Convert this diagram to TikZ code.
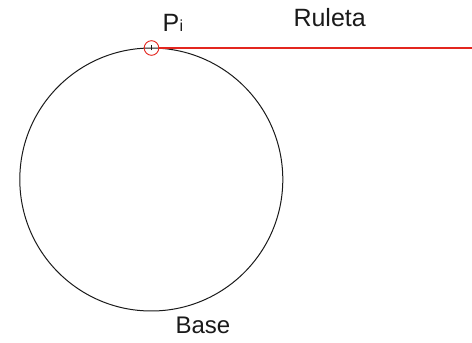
\documentclass[tikz,border=0pt]{standalone}
\usepackage{fontspec}
\setmainfont{Liberation Sans}
\usepackage{xcolor}
\usetikzlibrary{positioning,calc}
\definecolor{ink}{HTML}{1A1A1A}
\definecolor{rule}{HTML}{E3261F}
\tikzset{
  basecirc/.style = {draw=ink, line width=1pt},
  ruleline/.style = {draw=rule, line width=2.2pt},
  marker/.style   = {circle, draw=rule, line width=0.9pt, minimum size=14.6pt, inner sep=0pt, outer sep=0pt},
  tick/.style     = {draw=ink, line width=0.8pt},
  lab/.style      = {font=\fontsize{25}{29}\selectfont\color{ink}, anchor=base west, inner sep=0pt, outer sep=0pt},
}
\begin{document}
\begin{tikzpicture}[x=1pt,y=1pt]
\path[use as bounding box] (0,0) rectangle (472,343);

% ---- the base circle ----------------------------------------------------
\coordinate (O) at (151.3,163.5);
\draw[basecirc] (O) circle (131.5);

% ---- the point and the rolling line ------------------------------------
\coordinate (Pi) at (151.5,295);
\node[marker] (mark) at (Pi) {};
\draw[tick] ($(Pi)+(0,-2.5)$) -- ($(Pi)+(0,2.5)$);
\coordinate (rEnd) at (472,295);
\draw[ruleline] (mark.east) -- (rEnd);

% ---- labels -------------------------------------------------------------
\node[lab] (pLab) at (162.5,311.3) {P\kern0.5pt\fontsize{16}{18}\selectfont i};
\node[lab] (rLab) at (293.5,316) {Ruleta};
\node[lab, font=\fontsize{24}{28}\selectfont\color{ink}] (bLab) at (175.5,9.7) {Base};

\end{tikzpicture}
\end{document}
